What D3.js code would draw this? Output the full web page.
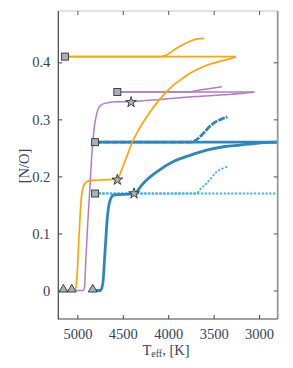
<!DOCTYPE html>
<html><head><meta charset="utf-8">
<script src="https://cdn.jsdelivr.net/npm/d3@7"></script>
<style>body{margin:0;background:#fff;} svg{display:block;} svg text{font-family:"Liberation Serif",serif !important;}</style>
</head><body>
<svg id="c" width="293" height="368"></svg>
<script>
// ---- data ----
const xTicks = [5000, 4500, 4000, 3500, 3000];
const yTicks = [0, 0.1, 0.2, 0.3, 0.4];
const yTickLabels = ["0", "0.1", "0.2", "0.3", "0.4"];

// orange track
const orangeRiseT  = [5062, 5033, 5015, 5000, 4985, 4971, 4955, 4934, 4900, 4850, 4700, 4560, 4512, 4456, 4401, 4310, 4200, 4145, 4050, 3943, 3850, 3760, 3660, 3576, 3400, 3256];
const orangeRiseNO = [0, 0, 0.006, 0.035, 0.085, 0.128, 0.165, 0.182, 0.19, 0.193, 0.194, 0.195, 0.212, 0.235, 0.258, 0.286, 0.313, 0.325, 0.343, 0.36, 0.371, 0.381, 0.389, 0.395, 0.403, 0.409];
const orangeBackT  = [3256, 5136];
const orangeBackNO = [0.41, 0.41];
const orangeUpT    = [5136, 4090, 4030, 3943, 3850, 3760, 3680, 3605];
const orangeUpNO   = [0.41, 0.41, 0.412, 0.421, 0.43, 0.437, 0.441, 0.442];

// purple track
const purpleRiseT  = [5154, 4934, 4922, 4905, 4885, 4862, 4845, 4830, 4813, 4790, 4769, 4730, 4695, 4585, 4409, 4255, 4000, 3700, 3400, 3099, 3052];
const purpleRiseNO = [0, 0, 0.005, 0.06, 0.12, 0.18, 0.228, 0.26, 0.287, 0.308, 0.319, 0.326, 0.328, 0.331, 0.331, 0.333, 0.336, 0.34, 0.343, 0.347, 0.348];
const purpleBackT  = [3052, 4560];
const purpleBackNO = [0.348, 0.348];
const purpleUpT    = [4560, 3760, 3700, 3600, 3500, 3410];
const purpleUpNO   = [0.348, 0.348, 0.35, 0.353, 0.355, 0.357];

// blue track
const blueRiseT  = [4831, 4745, 4720, 4695, 4670, 4640, 4600, 4376, 4330, 4310, 4255, 4126, 3943, 3760, 3576, 3393, 3209, 3025, 2800];
const blueRiseNO = [0, 0, 0.012, 0.07, 0.128, 0.158, 0.167, 0.17, 0.176, 0.181, 0.191, 0.208, 0.226, 0.237, 0.246, 0.252, 0.255, 0.258, 0.26];
const blueBackT  = [2800, 4805];
const blueBackNO = [0.26, 0.26];
const blueUpT    = [4805, 3760, 3700, 3631, 3560, 3503, 3420, 3349];
const blueUpNO   = [0.26, 0.26, 0.263, 0.2725, 0.285, 0.293, 0.3, 0.3046];

// light blue (dotted) track
const lblueBackT  = [2780, 4805];
const lblueBackNO = [0.17, 0.17];
const lblueUpT    = [4805, 3686, 3650, 3576, 3466, 3349];
const lblueUpNO   = [0.17, 0.17, 0.177, 0.188, 0.208, 0.2168];

// markers
const squareT  = [5136, 4560, 4805, 4805];
const squareNO = [0.41, 0.348, 0.26, 0.17];
const starT    = [4409, 4560, 4376];
const starNO   = [0.33, 0.194, 0.17];
const triT     = [5154, 5062, 4831];
const triNO    = [0, 0, 0];

// ---- chart ----
const svg = d3.select("#c");
const L = 58.3, R = 277.7, T = 11, B = 319;
const x = d3.scaleLinear().domain([5210, 2795]).range([L, R]);
const y = d3.scaleLinear().domain([-0.05, 0.49]).range([B, T]);
const font = '"Liberation Serif", serif';
const txtCol = "#34435e";

svg.append("clipPath").attr("id","clip").append("rect")
  .attr("x", L).attr("y", T).attr("width", R - L).attr("height", B - T);

const zip = (a, b) => a.map((v, i) => [v, b[i]]);
const lineCurve = d3.line().x(d => x(d[0])).y(d => y(d[1])).curve(d3.curveMonotoneX);
const lineStraight = d3.line().x(d => x(d[0])).y(d => y(d[1]));

const g = svg.append("g").attr("clip-path", "url(#clip)");

function draw(tArr, nArr, color, w, dash, curved) {
  const data = zip(tArr, nArr);
  const sorted = curved ? data.slice().sort((a, b) => x(a[0]) - x(b[0])) : data;
  g.append("path").attr("d", (curved ? lineCurve : lineStraight)(sorted))
    .attr("fill", "none").attr("stroke", color).attr("stroke-width", w)
    .attr("stroke-dasharray", dash).attr("stroke-linejoin", "round");
}

const cLB = "#3bb4ea", cB = "#2e86c1", cP = "#b07cc8", cO = "#ffa500";
draw(lblueBackT, lblueBackNO, cLB, 1.8, "2.2,1.6", false);
draw(lblueUpT, lblueUpNO, cLB, 1.8, "2.2,1.6", true);
draw(blueRiseT, blueRiseNO, cB, 2.8, null, true);
draw(blueBackT, blueBackNO, cB, 2.8, null, false);
draw(blueUpT, blueUpNO, cB, 2.8, "7,1.2", true);
draw(purpleRiseT, purpleRiseNO, cP, 1.5, null, true);
draw(purpleBackT, purpleBackNO, cP, 1.5, null, false);
draw(purpleUpT, purpleUpNO, cP, 1.5, null, true);
draw(orangeRiseT, orangeRiseNO, cO, 1.7, null, true);
draw(orangeBackT, orangeBackNO, cO, 1.7, null, false);
draw(orangeUpT, orangeUpNO, cO, 1.7, null, true);

// frame
svg.append("line").attr("x1", L).attr("x2", R).attr("y1", T).attr("y2", T).attr("stroke", "#c4c4c4").attr("stroke-width", 1);
svg.append("line").attr("x1", R).attr("x2", R).attr("y1", T).attr("y2", B).attr("stroke", "#999").attr("stroke-width", 1.8);
svg.append("line").attr("x1", L).attr("x2", L).attr("y1", T).attr("y2", B + 0.5).attr("stroke", "#444").attr("stroke-width", 1.2);
svg.append("line").attr("x1", L).attr("x2", R).attr("y1", B).attr("y2", B).attr("stroke", "#444").attr("stroke-width", 1.2);

// axes with inward ticks
const xAxB = d3.axisBottom(x).tickValues(xTicks).tickSize(-4).tickPadding(10).tickFormat(d3.format("d"));
const xAxT = d3.axisTop(x).tickValues(xTicks).tickSize(-4).tickFormat("");
const yAxL = d3.axisLeft(y).tickValues(yTicks).tickSize(-4).tickPadding(8).tickFormat((d, i) => yTickLabels[i]);
const yAxR = d3.axisRight(y).tickValues(yTicks).tickSize(-4).tickFormat("");

function styleAx(sel, col) {
  sel.attr("font-family", null);
  sel.select(".domain").remove();
  sel.selectAll(".tick line").attr("stroke", col).attr("stroke-width", 1);
  sel.selectAll(".tick text").attr("fill", txtCol).style("font-family", font).style("font-size", "14.5px");
}
svg.append("g").attr("transform", `translate(0,${B})`).call(xAxB).call(s => styleAx(s, "#444"));
svg.append("g").attr("transform", `translate(0,${T})`).call(xAxT).call(s => styleAx(s, "#555"));
svg.append("g").attr("transform", `translate(${L},0)`).call(yAxL).call(s => styleAx(s, "#444"));
svg.append("g").attr("transform", `translate(${R},0)`).call(yAxR).call(s => styleAx(s, "#555"));

// markers
const mFill = "#a7b0bc", mStroke = "#333";
svg.selectAll(".sq").data(zip(squareT, squareNO)).join("rect")
  .attr("x", d => x(d[0]) - 3.5).attr("y", d => y(d[1]) - 3.5)
  .attr("width", 7).attr("height", 7)
  .attr("fill", mFill).attr("stroke", mStroke).attr("stroke-width", 0.9);
svg.selectAll(".st").data(zip(starT, starNO)).join("path")
  .attr("d", d3.symbol().type(d3.symbolStar).size(36))
  .attr("transform", d => `translate(${x(d[0])},${y(d[1])})`)
  .attr("fill", mFill).attr("stroke", "#222").attr("stroke-width", 0.8);
svg.selectAll(".tr").data(zip(triT, triNO)).join("path")
  .attr("d", d3.symbol().type(d3.symbolTriangle).size(34))
  .attr("transform", d => `translate(${x(d[0])},${y(d[1]) - 1})`)
  .attr("fill", mFill).attr("stroke", mStroke).attr("stroke-width", 0.9);

// labels
const xl = svg.append("text").attr("x", 166).attr("y", 355).attr("text-anchor", "middle")
  .style("font-family", font).style("font-size", "14.5px").attr("fill", txtCol);
xl.append("tspan").text("T");
xl.append("tspan").style("font-size", "10px").attr("dy", 2).text("eff");
xl.append("tspan").attr("dy", -2).text(", [K]");

svg.append("text").attr("transform", "translate(29,166) rotate(-90)").attr("text-anchor", "middle")
  .style("font-family", font).style("font-size", "14.5px").attr("fill", txtCol).text("[N/O]");
</script>
</body></html>
